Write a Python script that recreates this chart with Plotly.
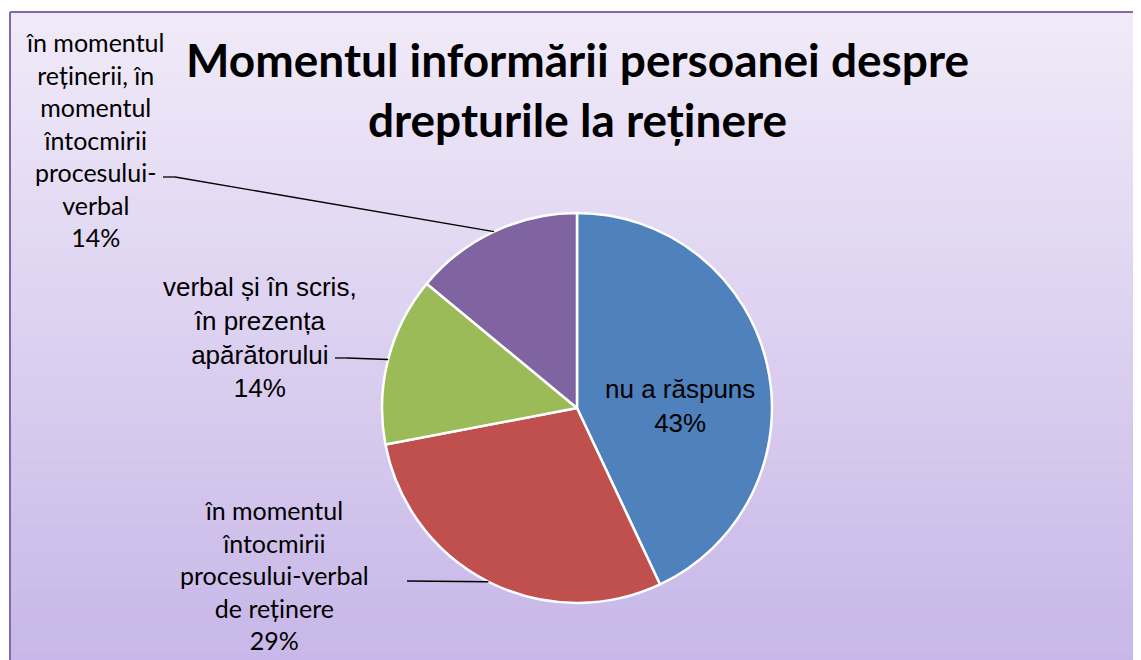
import math
import plotly.graph_objects as go

SW, SH = 1141, 660   # screen size
OFF = 8              # page body margin
W, H = SW - OFF, SH - OFF

# ---- data ----
labels = [
    "nu a răspuns",
    "în momentul întocmirii procesului-verbal de reținere",
    "verbal și în scris, în prezența apărătorului",
    "în momentul reținerii, în momentul întocmirii procesului-verbal",
]
values = [43, 29, 14, 14]
wrapped = [
    "nu a răspuns",
    "în momentul<br>întocmirii<br>procesului-verbal<br>de reținere",
    "verbal și în scris,<br>în prezența<br>apărătorului",
    "în momentul<br>reținerii, în<br>momentul<br>întocmirii<br>procesului-<br>verbal",
]
colors = ["#4F81BD", "#C0504D", "#9BBB59", "#8064A2"]
title_text = "Momentul informării persoanei despre<br>drepturile la reținere"

# ---- layout constants (screen pixels) ----
CX, CY, R = 577, 408, 195


def px(x):
    return (x - OFF) / W


def py(y):
    return 1 - (y - OFF) / H


fig = go.Figure()
fig.add_trace(go.Pie(
    labels=labels, values=values, sort=False, direction="clockwise", rotation=0,
    marker=dict(colors=colors, line=dict(color="white", width=2.5)),
    textinfo="none", hoverinfo="label+percent", showlegend=False,
    domain=dict(x=[px(CX - R), px(CX + R)], y=[py(CY + R), py(CY - R)]),
))

# background gradient inside the chart area
shapes = []
top, bottom, left = 12, SH + 2, 10
c0 = (240, 234, 248)
c1 = (200, 183, 232)
n = 60
for i in range(n):
    t = i / (n - 1)
    col = tuple(round(c0[k] + (c1[k] - c0[k]) * t) for k in range(3))
    y0 = top + (bottom - top) * i / n
    y1 = top + (bottom - top) * (i + 1) / n + 0.6
    shapes.append(dict(type="rect", xref="paper", yref="paper", layer="below",
                       x0=px(left), x1=px(SW + 2), y0=py(y0), y1=py(y1),
                       fillcolor="rgb(%d,%d,%d)" % col, line=dict(width=0)))
# top and left border of the chart area
shapes.append(dict(type="line", xref="paper", yref="paper", layer="below",
                   x0=px(left), x1=px(SW + 2), y0=py(top), y1=py(top),
                   line=dict(color="#8468AE", width=2)))
shapes.append(dict(type="line", xref="paper", yref="paper", layer="below",
                   x0=px(left), x1=px(left), y0=py(top), y1=py(SH + 2),
                   line=dict(color="#8468AE", width=2)))

# leader lines to slice midpoints on the edge
total = sum(values)
cum = 0
mids = []
for v in values:
    a = (cum + v / 2) / total * 2 * math.pi
    mids.append((CX + R * math.sin(a), CY - R * math.cos(a)))
    cum += v

leaders = {
    1: [(407, 581)],
    2: [(335, 358), (347, 358)],
    3: [(163, 177), (175, 177)],
}
for idx, pts in leaders.items():
    allpts = pts + [mids[idx]]
    for (xa, ya), (xb, yb) in zip(allpts[:-1], allpts[1:]):
        shapes.append(dict(type="line", xref="paper", yref="paper",
                           x0=px(xa), y0=py(ya), x1=px(xb), y1=py(yb),
                           line=dict(color="black", width=1.3)))

pcts = [f"{round(v / total * 100)}%" for v in values]
label_pos = {0: (680, 406), 1: (274, 575), 2: (260, 337), 3: (95, 139)}
label_font = {
    0: dict(family="Liberation Sans, Arial", size=26, color="black"),
    1: dict(family="Lato", size=25, color="black"),
    2: dict(family="Liberation Sans, Arial", size=26, color="black"),
    3: dict(family="Lato", size=25, color="black"),
}
annotations = []
for i in range(len(values)):
    x, y = label_pos[i]
    annotations.append(dict(xref="paper", yref="paper", x=px(x), y=py(y),
                            xanchor="center", yanchor="middle", showarrow=False,
                            text=wrapped[i] + "<br>" + pcts[i], align="center",
                            font=label_font[i]))
annotations.append(dict(xref="paper", yref="paper", x=px(577), y=py(89),
                        xanchor="center", yanchor="middle", showarrow=False,
                        text="<b>" + title_text + "</b>", align="center",
                        font=dict(family="Lato", size=46, color="black")))

fig.update_layout(width=W, height=H, margin=dict(l=0, r=0, t=0, b=0),
                  paper_bgcolor="white", plot_bgcolor="white",
                  shapes=shapes, annotations=annotations)
fig.write_html("out.html")
